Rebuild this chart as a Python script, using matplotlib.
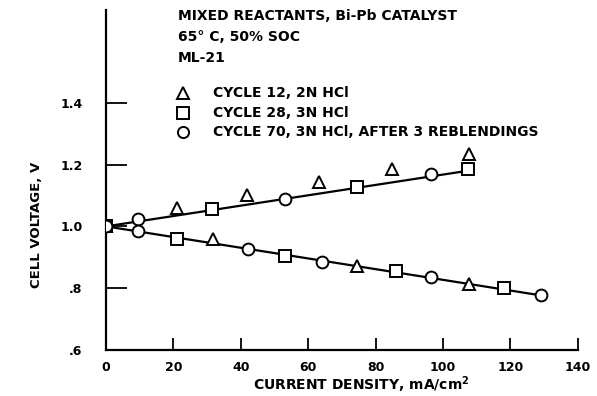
import matplotlib
matplotlib.use("Agg")
import matplotlib.pyplot as plt

# === Data ===
# cycle 12, 2N HCl (triangles)
c12_x = [0, 21, 41.7, 63.3, 85, 107.7, 31.7, 74.6, 107.7]
c12_y = [1.0, 1.06, 1.10, 1.142, 1.187, 1.235, 0.958, 0.871, 0.813]
# cycle 28, 3N HCl (squares)
c28_x = [0, 31.4, 74.6, 107.4, 21, 53, 86, 118]
c28_y = [1.0, 1.055, 1.126, 1.184, 0.958, 0.903, 0.855, 0.80]
# cycle 70, 3N HCl, after 3 reblendings (circles)
c70_x = [0, 9.5, 53, 96.4, 9.5, 42, 64, 96.4, 129]
c70_y = [1.0, 1.023, 1.09, 1.17, 0.984, 0.926, 0.884, 0.835, 0.777]

# fitted lines (charge / discharge)
charge_x = [0, 107.5]
charge_y = [1.0, 1.18]
discharge_x = [0, 129]
discharge_y = [1.0, 0.777]

xticks = [0, 20, 40, 60, 80, 100, 120, 140]
yticks = [0.6, 0.8, 1.0, 1.2, 1.4]
ytick_labels = [".6", ".8", "1.0", "1.2", "1.4"]

legend_labels = ["CYCLE 12, 2N HCl", "CYCLE 28, 3N HCl",
                 "CYCLE 70, 3N HCl, AFTER 3 REBLENDINGS"]
header = ["MIXED REACTANTS, Bi-Pb CATALYST", "65\u00b0 C, 50% SOC", "ML-21"]

plt.rcParams['font.family'] = ['DejaVu Sans']
plt.rcParams['font.weight'] = 'bold'

fig = plt.figure(figsize=(5.97, 3.96), dpi=100)
ax = fig.add_axes([0.1776, 0.116, 0.79, 0.859])

ax.plot(charge_x, charge_y, color="black", lw=1.6, zorder=1)
ax.plot(discharge_x, discharge_y, color="black", lw=1.6, zorder=1)

mk = dict(ls="none", mfc="white", mec="black", mew=1.4, ms=8.5, zorder=3)
ax.plot(c12_x, c12_y, marker="^", **mk)
ax.plot(c28_x, c28_y, marker="s", **mk)
ax.plot(c70_x, c70_y, marker="o", **mk)

ax.set_xlim(0, 140)
ax.set_ylim(0.6, 1.7)
ax.set_xticks(xticks)
ax.set_yticks(yticks)
ax.set_yticklabels(ytick_labels)
ax.tick_params(direction="in", width=1.3, labelsize=9)
ax.tick_params(axis="x", length=9, pad=8)
ax.tick_params(axis="y", length=15, pad=17)
ax.spines["top"].set_visible(False)
ax.spines["right"].set_visible(False)
ax.spines["left"].set_linewidth(1.6)
ax.spines["bottom"].set_linewidth(1.6)

# axis labels placed where they sit in the original
fig.text(361 / 597, 1 - 385 / 396, "CURRENT DENSITY, mA/cm$^\\mathbf{2}$",
         fontsize=10, ha="center", va="center")
fig.text(36 / 597, 1 - 225 / 396, "CELL VOLTAGE, V", fontsize=9.5,
         rotation=90, ha="center", va="center")

# header text
for i, line in enumerate(header):
    fig.text(178 / 597, 1 - (16 + 21 * i) / 396, line, fontsize=10,
             va="center", ha="left")

# legend-like key
for i, (lab, m) in enumerate(zip(legend_labels, ["^", "s", "o"])):
    yy = 1 - (93 + 19.5 * i) / 396
    fig.lines.append(plt.Line2D([183 / 597], [yy], marker=m, mfc="white",
                                mec="black", mew=1.4, ms=8,
                                transform=fig.transFigure, ls="none"))
    fig.text(213 / 597, yy, lab, fontsize=10, va="center", ha="left")

fig.savefig("out.png", dpi=100)
